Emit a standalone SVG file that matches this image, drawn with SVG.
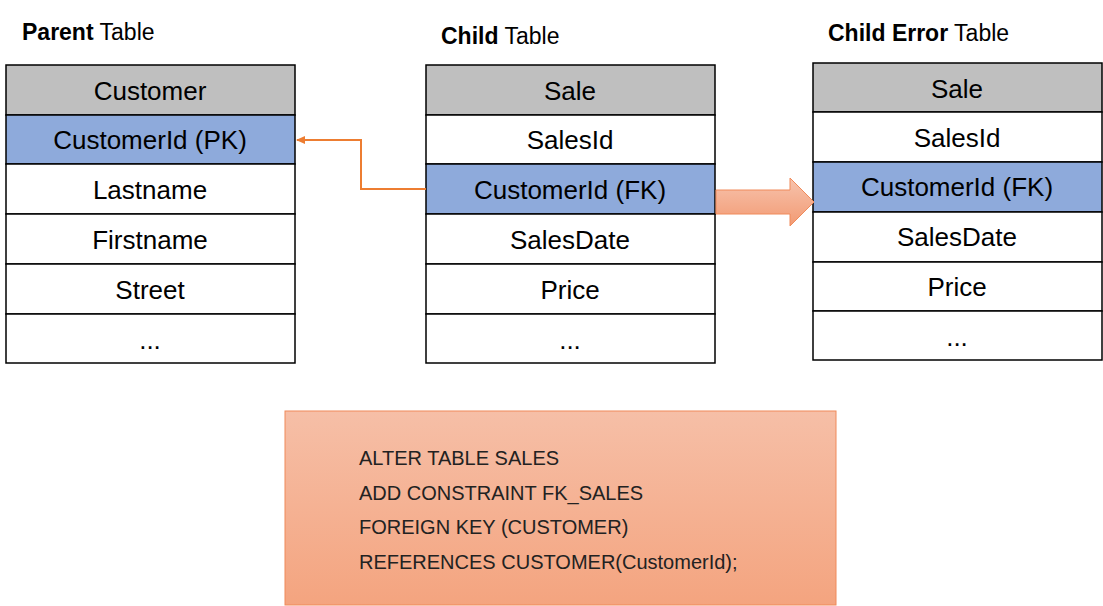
<svg xmlns="http://www.w3.org/2000/svg" width="1103" height="606" viewBox="0 0 1103 606">
<defs>
<style>
.r{fill:#fff;stroke:#000;stroke-width:1.5}
.h{fill:#bfbfbf;stroke:#000;stroke-width:1.5}
.k{fill:#8eaadb;stroke:#000;stroke-width:1.5}
.t{font-family:"Liberation Sans",Arial,sans-serif;font-size:26px;text-anchor:middle;fill:#000}
.ti{font-family:"Liberation Sans",Arial,sans-serif;font-size:23px;fill:#000}
.c{font-family:"Liberation Sans",Arial,sans-serif;font-size:20px;fill:#222}
</style>
<linearGradient id="g" x1="0" y1="0" x2="0" y2="1"><stop offset="0" stop-color="#f6bfa7"/><stop offset="1" stop-color="#f4a47f"/></linearGradient>
<linearGradient id="ga" x1="0" y1="0" x2="0" y2="1"><stop offset="0" stop-color="#f7c3ad"/><stop offset="1" stop-color="#f29a73"/></linearGradient>
<marker id="m" markerWidth="10" markerHeight="10" refX="8" refY="5" orient="auto" markerUnits="userSpaceOnUse"><path d="M0,1 L9,5 L0,9 z" fill="#ed7d31"/></marker>
</defs>
<text class="ti" x="22" y="40"><tspan font-weight="bold">Parent</tspan> Table</text>
<text class="ti" x="441" y="44"><tspan font-weight="bold">Child</tspan> Table</text>
<text class="ti" x="828" y="41"><tspan font-weight="bold">Child Error</tspan> Table</text>
<g id="parent">
<rect class="h" x="6" y="65" width="289" height="50"/><text class="t" x="150" y="100">Customer</text>
<rect class="k" x="6" y="115" width="289" height="49"/><text class="t" x="150" y="149">CustomerId (PK)</text>
<rect class="r" x="6" y="164" width="289" height="50"/><text class="t" x="150" y="199">Lastname</text>
<rect class="r" x="6" y="214" width="289" height="50"/><text class="t" x="150" y="249">Firstname</text>
<rect class="r" x="6" y="264" width="289" height="50"/><text class="t" x="150" y="299">Street</text>
<rect class="r" x="6" y="314" width="289" height="49"/><text class="t" x="150" y="349">...</text>
</g>
<g id="child">
<rect class="h" x="426" y="65" width="289" height="50"/><text class="t" x="570" y="100">Sale</text>
<rect class="r" x="426" y="115" width="289" height="49"/><text class="t" x="570" y="149">SalesId</text>
<rect class="k" x="426" y="164" width="289" height="50"/><text class="t" x="570" y="199">CustomerId (FK)</text>
<rect class="r" x="426" y="214" width="289" height="50"/><text class="t" x="570" y="249">SalesDate</text>
<rect class="r" x="426" y="264" width="289" height="50"/><text class="t" x="570" y="299">Price</text>
<rect class="r" x="426" y="314" width="289" height="49"/><text class="t" x="570" y="349">...</text>
</g>
<g id="childerror">
<rect class="h" x="813" y="63" width="289" height="49"/><text class="t" x="957" y="98">Sale</text>
<rect class="r" x="813" y="112" width="289" height="50"/><text class="t" x="957" y="147">SalesId</text>
<rect class="k" x="813" y="162" width="289" height="50"/><text class="t" x="957" y="196">CustomerId (FK)</text>
<rect class="r" x="813" y="212" width="289" height="50"/><text class="t" x="957" y="246">SalesDate</text>
<rect class="r" x="813" y="262" width="289" height="49"/><text class="t" x="957" y="296">Price</text>
<rect class="r" x="813" y="311" width="289" height="49"/><text class="t" x="957" y="346">...</text>
</g>
<g id="connectors">
<path d="M426,189 H361 V140 H297" fill="none" stroke="#ed7d31" stroke-width="2" marker-end="url(#m)"/>
<path d="M716,190 H790 V178 L814,202 L790,226 V214 H716 z" fill="url(#ga)" stroke="#f08a5a" stroke-width="1"/>
</g>
<g id="sql">
<rect x="285" y="411" width="551" height="194" fill="url(#g)" stroke="#f08a5a" stroke-width="1"/>
<text class="c" x="359" y="465">ALTER TABLE SALES</text>
<text class="c" x="359" y="500">ADD CONSTRAINT FK_SALES</text>
<text class="c" x="359" y="534">FOREIGN KEY (CUSTOMER)</text>
<text class="c" x="359" y="569">REFERENCES CUSTOMER(CustomerId);</text>
</g>
</svg>
